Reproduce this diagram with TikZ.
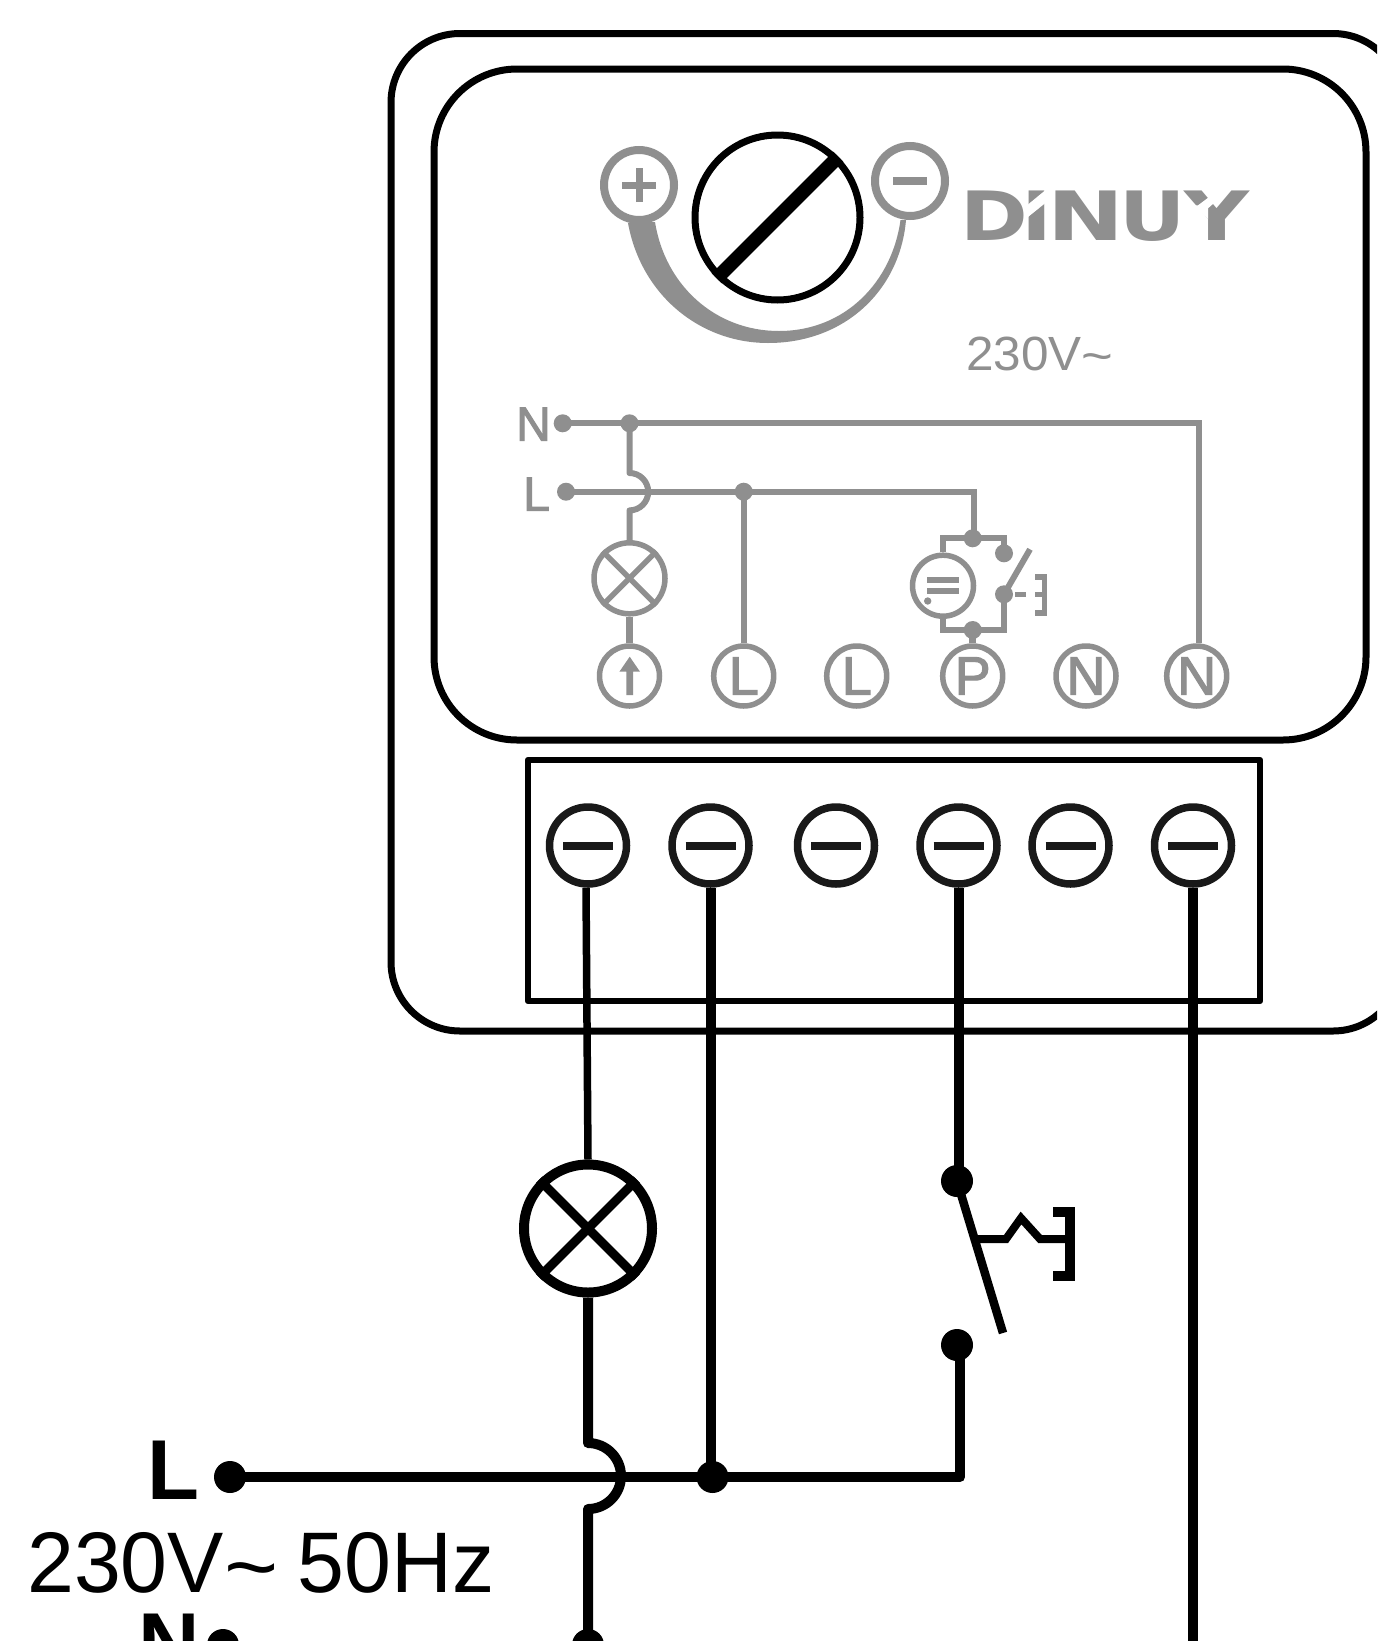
\documentclass[tikz,border=0pt]{standalone}
\usepackage{graphicx}
\usepackage{fontspec}
\setmainfont{Liberation Sans}
\newfontfamily\logofont{DejaVu Sans}[BoldFont={DejaVu Sans Bold}]
\newfontfamily\medfont{Liberation Sans}[FakeBold=2.2]
\definecolor{gr}{HTML}{8F8F8F}
\newcommand{\fsz}[1]{\fontsize{#1}{#1}\selectfont}
\newcommand{\lgl}[3]{\rlap{\kern#1pt\scalebox{#2}[1]{#3}}}
\tikzset{
  shell/.style={draw=black,line width=7pt},
  wirep/.style={draw=black,line width=10pt,line join=round},
  wiret/.style={draw=black,line width=7.5pt},
  screw/.style={circle,draw=black!90,line width=7.5pt,minimum size=77pt,inner sep=0pt},
  bar/.style={draw=black!90,line width=8pt},
  bdot/.style={circle,fill=black,inner sep=0pt,minimum size=32pt},
  lampb/.style={circle,draw=black,line width=10pt,minimum size=128pt,inner sep=0pt,fill=white},
  gw/.style={draw=gr,line width=6pt,line join=miter},
  gdot/.style={circle,fill=gr,inner sep=0pt,minimum size=18pt},
  gterm/.style={circle,draw=gr,line width=5.5pt,minimum size=60pt,inner sep=0pt,text=gr,font=\medfont\fsz{54}},
  gknob/.style={circle,draw=gr,line width=8pt,minimum size=70pt,inner sep=0pt},
  gtext/.style={text=gr,inner sep=0pt,anchor=base west,font=\fsz{48}},
  btext/.style={text=black,inner sep=0pt,anchor=base west},
}
\begin{document}
\begin{tikzpicture}[x=1pt,y=-1pt]
\clip (0,0) rectangle (1377,1641);
\fill[white] (0,0) rectangle (1377,1641);
% housing
\draw[shell,rounded corners=69pt] (391,33.5) rectangle (1402,1031);
\draw[shell,rounded corners=83pt] (434,69) rectangle (1366,740);
\draw[shell,line width=6.5pt,line join=round] (528,760) rectangle (1260,1001);
% dial
\fill[gr] (628,223) .. controls (641,295) and (700,343) .. (768,343)
  .. controls (845,343) and (900,290) .. (906,220)
  -- (900.5,220) .. controls (892,282) and (845,331) .. (779,331)
  .. controls (715,331) and (665,285) .. (655,222) -- cycle;
\node[gknob] (kplus) at (639,185) {};
\node[gknob] (kminus) at (910,181) {};
\draw[draw=gr,line width=7pt] ([xshift=-17pt]kplus.center) -- ([xshift=17pt]kplus.center);
\draw[draw=gr,line width=7pt] ([yshift=-17pt]kplus.center) -- ([yshift=17pt]kplus.center);
\draw[draw=gr,line width=7.5pt] ([xshift=-17pt]kminus.center) -- ([xshift=17pt]kminus.center);
\node[circle,draw=black,line width=7pt,minimum size=165pt,inner sep=0pt] (dial) at (777.5,217.5) {};
\draw[draw=black,line width=14pt] (dial.45) -- (dial.225);
% logo
\node[text=gr,inner sep=0pt,anchor=base west,font={\logofont\bfseries\fsz{68}}] (logo) at (959.5,240)
  {\lgl{0}{1.2}{D}\lgl{61.7}{1.22}{I}\lgl{87.1}{1.35}{N}\lgl{159}{1.2}{U}\lgl{224.5}{1.32}{Y}};
\fill[white] (1028,204.5) -- (1045,190.5) -- (1045,203.3) -- (1028,217) -- cycle;
\fill[white] (1203.7,189) -- (1230,189) -- (1208,208.3) -- (1208,219) -- (1193,205.3) -- (1198,205.3) -- (1210,196.3) -- cycle;
\node[gtext,xscale=1.03,transform shape] (volt) at (966,370) {230V\raisebox{-2pt}{\scalebox{1.1}[1]{\textasciitilde}}};
% gray schematic labels
\node[gtext,font=\medfont\fsz{48}] (labN) at (516,440.7) {N};
\node[gtext,font=\medfont\fsz{48}] (labL) at (523,510.7) {L};
\node[gdot] (dN) at (562.7,423.3) {};
\node[gdot] (jN) at (629.5,423.3) {};
\node[gdot] (dL) at (566,491.7) {};
\node[gdot] (jL) at (743.7,491.7) {};
\node[gterm] (tA) at (629.5,676) {};
\node[gterm] (tL1) at (743.7,676) {L};
\node[gterm] (tL2) at (856.7,676) {L};
\node[gterm] (tP) at (972.7,676) {P};
\node[gterm] (tN1) at (1086,676) {N};
\node[gterm] (tN2) at (1196.7,676) {N};
\node[circle,draw=gr,line width=5.5pt,minimum size=71pt,inner sep=0pt] (glamp) at (629.5,578.3) {};
\draw[gw,line width=5.5pt] (glamp.45) -- (glamp.225);
\draw[gw,line width=5.5pt] (glamp.135) -- (glamp.315);
% arrow inside terminal
\fill[gr] (629.7,656.7) -- (640,671.7) -- (633,671.7) -- (633,695) -- (626.4,695) -- (626.4,671.7) -- (619.4,671.7) -- cycle;
% gray wires
\draw[gw] (dN.center) -- (jN.center) -- (1198.7,423.3) -- ([xshift=2pt]tN2.north);
\draw[gw,line join=round] (jN.center) -- (629.5,473) arc[start angle=-90,end angle=90,radius=18.7] -- (glamp.north);
\draw[gw] (dL.center) -- (jL.center) -- (974,491.7) -- (974,538);
\draw[gw] (jL.center) -- (tL1.north);
\draw[gw,line width=7.5pt] (glamp.south) -- (tA.north);
% relay symbol
\node[gdot] (rT) at (972.7,538.3) {};
\node[gdot] (rB) at (972.7,630) {};
\node[gdot] (rC) at (1004,553.3) {};
\node[gdot] (rM) at (1004,594.3) {};
\node[circle,draw=gr,line width=5.5pt,minimum size=61pt,inner sep=0pt] (rel) at (943,585.7) {};
\draw[gw] (rel.north) -- (943,538.3) -- (rT.center) -- (1004,538.3) -- (rC.center);
\draw[gw] (rel.south) -- (943,630) -- (rB.center) -- (1004,630) -- (rM.center);
\draw[gw,line width=7.5pt] (rB.center) -- (tP.north);
\draw[gw] ([xshift=-16pt,yshift=-5.7pt]rel.center) -- ([xshift=16pt,yshift=-5.7pt]rel.center);
\draw[gw] ([xshift=-16pt,yshift=6pt]rel.center) -- ([xshift=16pt,yshift=6pt]rel.center);
\fill[gr] (927.7,601) circle[radius=3.7];
\draw[gw] (rM.center) -- (1030,549.3);
\draw[gw,line width=5.5pt] (1015,594.3) -- (1025.7,594.3);
\draw[gw,line width=5.5pt] (1035,577) -- (1044.5,577) -- (1044.5,613) -- (1035,613);
\draw[gw,line width=5.5pt] (1035,594.3) -- (1044.5,594.3);
% terminals
\foreach \n/\x in {s1/588,s2/710.5,s3/836,s4/958.5,s5/1070.5,s6/1193}{
  \node[screw] (\n) at (\x,845.5) {};
  \draw[bar] ([xshift=-25pt]\n.center) -- ([xshift=25pt]\n.center);
}
% load side
\node[lampb] (lamp) at (588,1228.5) {};
\draw[draw=black,line width=9pt] (lamp.45) -- (lamp.225);
\draw[draw=black,line width=9pt] (lamp.135) -- (lamp.315);
\node[bdot] (swT) at (957,1181) {};
\node[bdot] (swB) at (957,1345) {};
\node[bdot] (lineL) at (230,1477) {};
\node[bdot] (junL) at (712.5,1477) {};
\node[bdot] (lineN) at (223,1645) {};
\node[bdot] (junN) at (588,1645) {};
% wires
\draw[wiret] ([xshift=-2pt]s1.south) -- (lamp.north);
\draw[wirep] (s2.south) -- (s2.south |- junL.center);
\draw[wirep] (s4.south) -- (s4.south |- swT.center);
\draw[wirep] (s6.south) -- (1193,1660);
\draw[wirep] (lineL.center) -- (junL.center) -- (960,1477) -- ([xshift=3pt]swB.center);
\draw[wirep] (lamp.south) -- (588,1443) arc[start angle=-90,end angle=90,radius=33] -- (junN.center);
% push button
\draw[draw=black,line width=8.5pt] (swT.center) -- (1003,1333);
\draw[draw=black,line width=8pt] (977,1239) -- (1006,1239) -- (1021,1218) -- (1040,1239) -- (1070,1239);
\draw[draw=black,line width=10pt] (1053,1212) -- (1070,1212) -- (1070,1276) -- (1053,1276);
% big labels
\node[btext,font=\bfseries\fsz{85}] (bigL) at (147,1499) {L};
\node[btext,font=\fsz{86},xscale=.98,transform shape] (bigV) at (27,1592) {230V\raisebox{-4pt}{\scalebox{1.1}[1]{\textasciitilde}}\kern-4pt{} 50Hz};
\node[btext,font=\bfseries\fsz{85}] (bigN) at (138.5,1672) {N};
\end{tikzpicture}
\end{document}
